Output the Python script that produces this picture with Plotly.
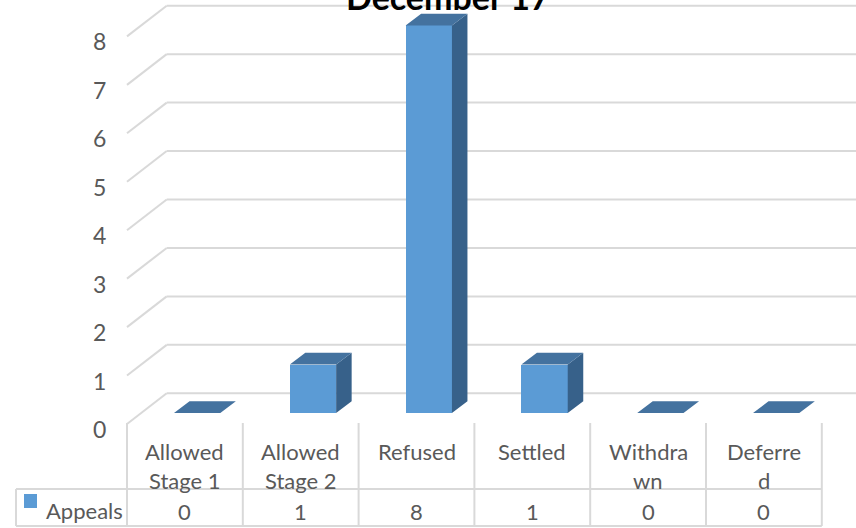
import plotly.graph_objects as go

# ---- data -------------------------------------------------------------
title_text = "December 17"
series_name = "Appeals"
categories = ["Allowed Stage 1", "Allowed Stage 2", "Refused", "Settled", "Withdrawn", "Deferred"]
table_labels = ["Allowed\nStage 1", "Allowed\nStage 2", "Refused", "Settled", "Withdra\nwn", "Deferre\nd"]
appeals = [0, 1, 8, 1, 0, 0]
y_ticks = [0, 1, 2, 3, 4, 5, 6, 7, 8]

# ---- styling ----------------------------------------------------------
FRONT = "#5B9BD5"
TOP = "#44729F"
SIDE = "#37618A"
GRID = "#D9D9D9"
TEXT = "#595959"
FONT = "Lato"

W, H = 856, 528
PX_X = 115.8      # pixels per category
PX_Y = 48.45      # pixels per unit value
X_ORIGIN = 184.9  # pixel x of first category centre
Y_ORIGIN = 413.0  # pixel y of value 0 on the bar front plane

x_range = [-X_ORIGIN / PX_X, (W - X_ORIGIN) / PX_X]
y_range = [(Y_ORIGIN - H) / PX_Y, Y_ORIGIN / PX_Y]


def py(pixel_y):
    """pixel row -> value units"""
    return (Y_ORIGIN - pixel_y) / PX_Y


def px(pixel_x):
    """pixel column -> category units"""
    return (pixel_x - X_ORIGIN) / PX_X


# 3-D projection parameters (in axis units)
BAR_W = 0.40
BAR_OFF = -0.094
DX, DY = 0.134, 0.242
WALL_X0, WALL_X1 = -0.5, px(166.7)
WALL_DY0, WALL_DY1 = py(424.0), py(393.3)

n = len(categories)
xs = list(range(n))

fig = go.Figure()
shapes = []

# back wall gridlines and side wall diagonals (behind the bars)
for v in y_ticks:
    shapes.append(dict(type="line", layer="below", xref="x", yref="y",
                       x0=WALL_X0, y0=v + WALL_DY0, x1=WALL_X1, y1=v + WALL_DY1,
                       line=dict(color=GRID, width=2)))
    shapes.append(dict(type="line", layer="below", xref="x", yref="y",
                       x0=WALL_X1, y0=v + WALL_DY1, x1=x_range[1] + 1, y1=v + WALL_DY1,
                       line=dict(color=GRID, width=2)))

# bar front faces
fig.add_trace(go.Bar(x=xs, y=appeals, width=BAR_W, offset=BAR_OFF, name=series_name,
                     marker=dict(color=FRONT, line=dict(width=0)), showlegend=False))

# top and side faces
tx, ty, sx, sy = [], [], [], []
for i, v in zip(xs, appeals):
    x0 = i + BAR_OFF
    x1 = x0 + BAR_W
    tx += [x0, x1, x1 + DX, x0 + DX, x0, None]
    ty += [v, v, v + DY, v + DY, v, None]
    if v > 0:
        sx += [x1, x1 + DX, x1 + DX, x1, x1, None]
        sy += [0, DY, v + DY, v, 0, None]
fig.add_trace(go.Scatter(x=sx, y=sy, mode="lines", fill="toself", fillcolor=SIDE,
                         line=dict(width=0, color=SIDE), hoverinfo="skip", showlegend=False))
fig.add_trace(go.Scatter(x=tx, y=ty, mode="lines", fill="toself", fillcolor=TOP,
                         line=dict(width=0, color=TOP), hoverinfo="skip", showlegend=False))

annotations = []
# value axis labels
for v in y_ticks:
    annotations.append(dict(x=px(99), y=v + py(429), xref="x", yref="y", text=str(v),
                            showarrow=False, font=dict(family=FONT, size=23, color=TEXT)))

# data table
T_TOP, T_MID, T_BOT = py(423), py(489), py(526)
T_LEFT, T_RIGHT = px(16), n - 0.5
for k in range(n + 1):
    xb = k - 0.5
    shapes.append(dict(type="line", xref="x", yref="y", x0=xb, x1=xb, y0=T_TOP, y1=T_BOT,
                       line=dict(color=GRID, width=2)))
shapes.append(dict(type="line", xref="x", yref="y", x0=T_LEFT, x1=T_LEFT, y0=T_MID, y1=T_BOT,
                   line=dict(color=GRID, width=2)))
for yb in (T_MID, T_BOT):
    shapes.append(dict(type="line", xref="x", yref="y", x0=T_LEFT, x1=T_RIGHT, y0=yb, y1=yb,
                       line=dict(color=GRID, width=2)))

for i, lab, val in zip(xs, table_labels, appeals):
    for j, part in enumerate(lab.split("\n")):
        annotations.append(dict(x=i, y=py(451 + 29 * j), xref="x", yref="y", text=part,
                                showarrow=False, font=dict(family=FONT, size=22, color=TEXT)))
    annotations.append(dict(x=i, y=py(511), xref="x", yref="y", text=str(val),
                            showarrow=False, font=dict(family=FONT, size=22, color=TEXT)))

# legend key in the table
shapes.append(dict(type="rect", xref="x", yref="y", x0=px(24), x1=px(37), y0=py(508), y1=py(494),
                   fillcolor=FRONT, line=dict(width=0)))
annotations.append(dict(x=px(44), y=py(510), xref="x", yref="y", text=series_name, xanchor="left",
                        showarrow=False, font=dict(family=FONT, size=22, color=TEXT)))

# chart title (its top runs past the upper edge)
annotations.append(dict(x=448 / W, y=1 + 4 / H, xref="paper", yref="paper",
                        text="<b>" + title_text + "</b>", yanchor="middle",
                        showarrow=False, font=dict(family=FONT, size=34, color="#000000")))

fig.update_layout(
    width=W, height=H, margin=dict(l=0, r=0, t=0, b=0),
    paper_bgcolor="white", plot_bgcolor="white",
    xaxis=dict(range=x_range, visible=False, fixedrange=True),
    yaxis=dict(range=y_range, visible=False, fixedrange=True),
    shapes=shapes, annotations=annotations, bargap=0,
)
fig.write_html("out.html")
